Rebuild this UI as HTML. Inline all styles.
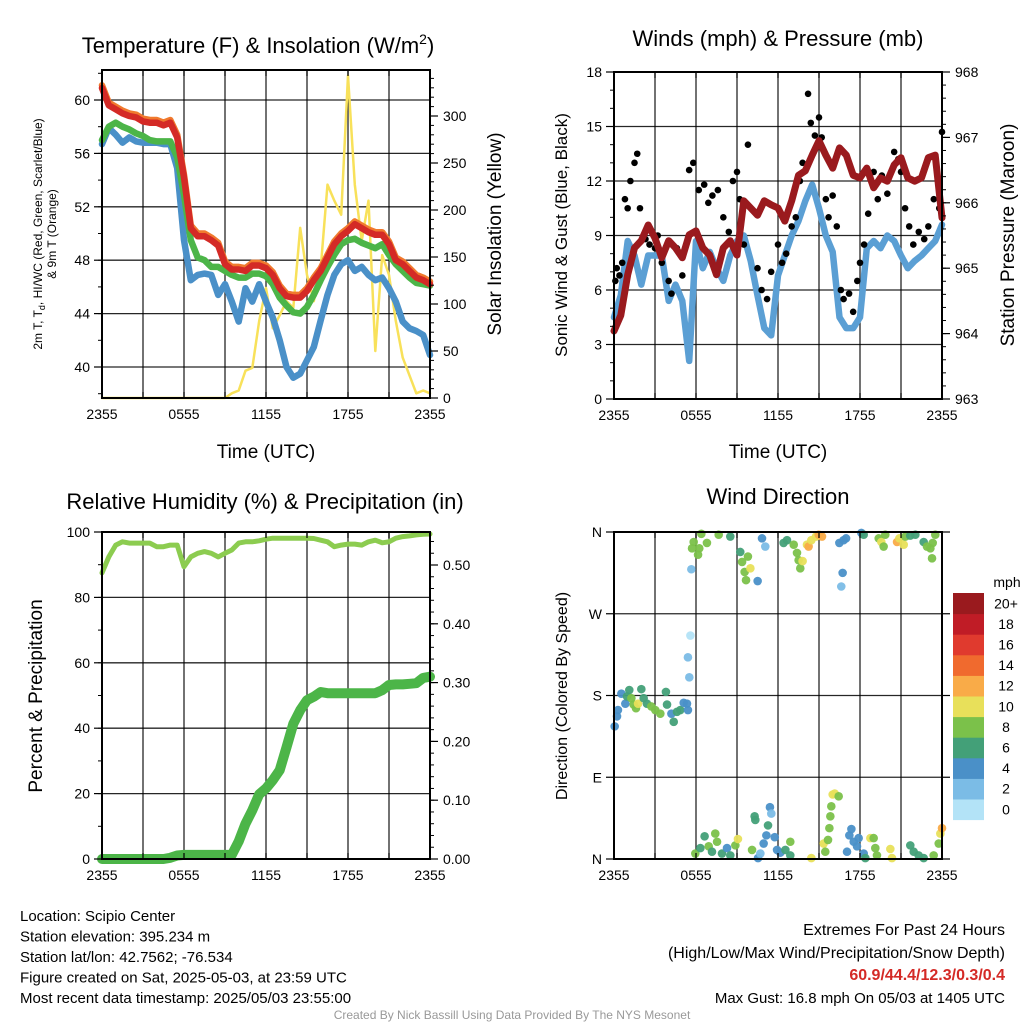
<!DOCTYPE html>
<html><head><meta charset="utf-8">
<style>
html,body{margin:0;padding:0;background:#fff;}
svg{display:block;font-family:"Liberation Sans",Arial,sans-serif;}
</style></head>
<body>
<svg id="c" width="1024" height="1024" viewBox="0 0 1024 1024"></svg>
<script>
// ---------- DATA ----------
const hoursHalf = [0,0.5,1,1.5,2,2.5,3,3.5,4,4.5,5,5.5,6,6.5,7,7.5,8,8.5,9,9.5,10,10.5,11,11.5,12,12.5,13,13.5,14,14.5,15,15.5,16,16.5,17,17.5,18,18.5,19,19.5,20,20.5,21,21.5,22,22.5,23,23.5,24];
const xTickLabels = ["2355","0555","1155","1755","2355"];
const tempRed = [60.9,59.6,59.3,59.0,58.8,58.7,58.4,58.3,58.3,58.1,58.3,57.2,54.2,50.4,49.8,49.8,49.5,49.1,47.7,47.3,47.3,47.2,47.6,47.6,47.4,46.9,45.9,45.3,45.2,45.2,45.7,46.5,47.2,48.2,49.2,49.8,50.2,50.7,50.4,50.1,49.9,49.9,49.2,48.0,47.7,47.2,46.7,46.5,46.2];
const tempGreen = [57.0,58.0,58.3,58.0,57.8,57.5,57.3,57.0,56.9,56.9,56.9,55.7,52.9,49.5,48.2,48.0,47.5,47.5,47.2,46.9,46.7,46.7,47.0,47.0,46.8,46.2,45.2,44.6,44.1,44.0,44.5,45.4,46.5,47.5,48.4,49.2,49.5,49.6,49.3,49.1,48.9,49.2,48.4,47.7,47.2,46.7,46.3,46.2,46.1];
const tempBlue = [56.7,57.9,57.4,56.8,57.2,56.9,56.8,56.8,56.8,56.7,56.7,54.9,49.5,46.5,46.9,47.0,46.9,45.4,46.2,44.9,43.4,45.9,44.9,46.2,44.9,43.7,42.0,40.0,39.2,39.5,40.5,41.5,43.5,45.4,46.9,47.7,48.0,47.2,47.5,46.9,46.5,46.7,45.9,44.9,43.4,42.9,42.7,42.4,40.9];
const insolation = [0,0,0,0,0,0,0,0,0,0,0,0,0,0,0,0,0,0,0,5,8,29,32,82,117,74,88,103,96,181,131,103,138,227,210,195,343,227,167,210,50,152,131,82,43,24,5,8,5];
const windSpeed = [4.5,5.7,8.7,7.9,6.3,7.9,7.9,7.9,5.4,6.3,5.4,2.1,8.7,7.2,8.1,7.2,6.5,7.9,8.7,9.0,7.6,5.7,3.9,3.5,6.8,7.9,9.0,9.8,10.9,11.8,10.5,9.0,8.1,4.5,3.9,3.9,4.5,8.3,8.7,8.3,9.0,8.7,7.9,7.2,7.6,7.9,8.3,8.7,9.6];
const pressure = [964.04,964.28,964.9,965.31,965.42,965.66,965.46,965.16,965.42,965.31,965.16,965.51,965.57,965.31,965.2,964.9,965.31,965.42,965.2,966.03,965.92,965.81,966.03,965.97,965.92,965.72,966.03,966.42,966.49,966.73,966.95,966.73,966.53,966.84,966.73,966.42,966.38,966.53,966.23,966.38,966.33,966.58,966.69,966.38,966.33,966.38,966.69,966.73,965.77];
const gustHours = [0.1,0.2,0.4,0.6,0.8,1.0,1.2,1.5,1.7,1.9,2.3,2.6,3.0,3.2,3.5,4.0,4.2,4.6,5.0,5.5,5.8,6.2,6.6,6.9,7.2,7.6,8.0,8.4,8.7,9.0,9.2,9.5,9.8,10.5,10.8,11.2,11.5,12.0,12.3,12.6,13.0,13.3,13.6,13.8,14.2,14.4,14.7,15.0,15.2,15.5,15.7,16.0,16.3,16.6,16.8,17.2,17.5,17.8,18.0,18.3,18.6,19.0,19.3,19.6,20.0,20.5,20.8,21.0,21.3,21.6,21.9,22.3,22.7,23.0,23.4,23.8,24.0];
const gustValues = [6.5,7.2,6.8,7.5,11,10.5,12,13,13.5,10.5,8.8,8.5,8.3,9,7.5,6.5,5.8,8.3,6.8,12.6,13,11.5,11.8,10.8,11.2,11.5,10,9.2,12,12.5,11,8.5,14,7.2,6,5.5,7,8.5,7.5,8,9.5,10,12,13,16.8,15.2,14.5,15.5,14.4,11,10,11.2,9.5,6,5.5,5.8,4.8,6.5,7.5,8.5,10.2,12.5,11,12.3,11.3,13.6,13.2,12.5,10.5,9.5,8.5,9.2,8.8,9.5,11,10.5,14.7];
const rh = [87.5,92.4,96,97,96.6,96.6,96.6,96.6,95.5,95.5,96,96,89.4,92.4,93.5,94,93.5,92.4,93.5,94.5,96.6,97,97,97.3,97.8,98.1,98.1,98.1,98.1,98.1,98.1,98,97.5,97,95.5,96,96.3,96.3,96,97,97.5,96.7,97,98.1,98.6,98.8,99.1,99.3,99.4];
const precip = [0,0,0,0,0,0,0,0,0,0,0.002,0.006,0.007,0.007,0.007,0.007,0.007,0.007,0.007,0.007,0.03,0.06,0.083,0.11,0.12,0.134,0.151,0.19,0.23,0.253,0.27,0.276,0.284,0.282,0.282,0.282,0.282,0.282,0.282,0.282,0.282,0.287,0.296,0.297,0.297,0.298,0.299,0.308,0.31];
const dirHours = [0.05,0.22,0.29,0.54,0.83,0.95,1.12,1.27,1.44,1.61,1.76,2.0,2.17,2.41,2.73,3.02,3.39,3.8,3.88,4.2,4.37,4.61,4.85,5.1,5.34,5.41,5.51,5.41,5.59,5.66,
5.83,5.71,6.24,6.15,6.39,6.8,7.66,8.51,9.24,9.37,9.56,9.8,9.98,9.66,10.51,10.83,11.07,12.41,12.66,13.15,13.39,13.51,13.63,13.8,14.12,14.24,14.44,14.78,14.98,15.22,16.49,16.8,16.98,16.73,16.63,18.1,18.27,19.37,19.56,19.73,19.85,20.71,20.88,21.2,21.32,21.68,22.05,22.66,22.9,23.15,23.27,23.51,23.32,
5.95,6.32,6.63,6.93,7.17,7.41,7.54,7.9,8.27,8.51,8.88,9.07,10.1,10.29,10.34,10.54,10.71,10.95,11.15,11.27,11.41,11.51,11.76,11.93,12.17,12.54,12.9,12.9,14.44,15.34,15.46,15.66,15.76,15.83,15.9,16.0,16.15,16.44,17.05,17.22,17.37,17.54,17.78,17.9,18.27,18.39,18.76,19.0,19.12,19.24,20.22,20.34,21.68,21.93,22.29,22.66,23.39,23.76,23.88,24.0];
const dirDegrees = [146,157,164,182,171,179,186,177,170,166,171,187,177,171,168,164,160,184,170,160,151,162,164,172,171,164,200,222,246,319,
349,342,342,335,358,348,357,355,338,327,316,333,320,307,306,353,344,348,351,346,337,329,320,328,346,344,351,355,357,355,348,351,353,315,300,359,357,353,349,344,357,349,353,346,355,356,357,349,344,342,331,357,348,
6,12,25,14,8,28,19,6,12,4,15,22,10,47,43,1,6,17,26,37,57,50,24,10,7,10,19,4,1,17,8,21,34,47,58,71,72,69,8,26,33,19,14,23,6,1,23,23,12,4,11,1,15,8,4,1,4,17,28,34];
const dirSpeeds = [4,4,4,4,4,6,6,8,8,8,10,6,6,6,8,8,8,6,6,4,6,6,6,4,4,4,2,2,0,2,
8,8,8,8,8,8,8,6,6,8,8,8,10,8,4,4,2,6,6,8,8,8,8,10,10,12,10,10,12,12,4,4,4,4,2,4,6,8,10,8,8,12,10,10,8,6,6,6,8,8,8,8,8,
8,6,6,8,6,8,8,6,4,6,8,10,8,6,6,4,2,4,4,6,4,2,4,4,4,6,8,6,10,10,8,8,8,8,8,10,10,8,4,4,4,4,4,4,4,6,10,8,8,8,10,10,6,6,6,6,8,8,10,12];
const speedBins = ["0","2","4","6","8","10","12","14","16","18","20+"];
const speedColors = ["#b3e3f7","#7bbce6","#4a90c8","#43a078","#7bc14a","#e8e05a","#f9ab48","#f06a2e","#e03a2e","#c01c26","#9a1a1e"];

// ---------- HELPERS ----------
const NS="http://www.w3.org/2000/svg";
const svg=document.getElementById('c');
function mk(tag,attrs,parent){const e=document.createElementNS(NS,tag);for(const k in attrs)e.setAttribute(k,attrs[k]);(parent||svg).appendChild(e);return e;}
function txt(s,x,y,size,opts,parent){opts=opts||{};const e=mk('text',{x:x,y:y,'font-size':size,'text-anchor':opts.anchor||'middle',fill:opts.fill||'#000'},parent);if(opts.weight)e.setAttribute('font-weight',opts.weight);if(opts.rot!==undefined)e.setAttribute('transform','rotate('+opts.rot+' '+x+' '+y+')');e.textContent=s;return e;}
function lin(d0,d1,r0,r1){return v=>r0+(v-d0)/(d1-d0)*(r1-r0);}

function panelFrame(p,name){
  const g=mk('g',{});
  
  
  for(let h=3;h<24;h+=3){mk('line',{x1:p.x(h),x2:p.x(h),y1:p.top,y2:p.bot,stroke:'#000','stroke-width':1.3,'stroke-opacity':0.85},g);}
  return g;
}
function xAxis(p,g){
  for(let i=0;i<=8;i++){const h=i*3;const X=p.x(h);
    mk('line',{x1:X,x2:X,y1:p.bot,y2:p.bot-6,stroke:'#000','stroke-width':1.2},g);
    mk('line',{x1:X,x2:X,y1:p.top,y2:p.top+6,stroke:'#000','stroke-width':1.2},g);}
  for(let i=0;i<xTickLabels.length;i++){const t=txt(xTickLabels[i],p.x(i*6),p.bot+21,14,{},g);
    
    }
}
function border(p,g){mk('rect',{x:p.left,y:p.top,width:p.right-p.left,height:p.bot-p.top,fill:'none',stroke:'#000','stroke-width':2},g);}
function hgrid(p,vals,yf,g){vals.forEach(v=>mk('line',{x1:p.left,x2:p.right,y1:yf(v),y2:yf(v),stroke:'#000','stroke-width':1.3,'stroke-opacity':0.85},g));}
function yTicks(side,p,vals,yf,labels,g,minor){
  const X= side==='l'?p.left:p.right; const dir= side==='l'?-1:1;
  (minor||[]).forEach(v=>mk('line',{x1:X,x2:X+dir*4,y1:yf(v),y2:yf(v),stroke:'#000','stroke-width':1},g));
  vals.forEach((v,i)=>{mk('line',{x1:X,x2:X+dir*8,y1:yf(v),y2:yf(v),stroke:'#000','stroke-width':1.2},g);
    const t=txt(labels[i],X+dir*(side==='l'?12:13),yf(v)+5,14,{anchor:side==='l'?'end':'start'},g);
    
    });
}
function path(xs,ys,xf,yf,color,w,g,name){
  let d='';for(let i=0;i<xs.length;i++)d+=(i?'L':'M')+xf(xs[i]).toFixed(1)+','+yf(ys[i]).toFixed(1);
  const e=mk('path',{d:d,fill:'none',stroke:color,'stroke-width':w,'stroke-linejoin':'round','stroke-linecap':'round'},g);
  
  
  return e;
}
function range(a,b,s){const r=[];for(let v=a;v<=b+1e-9;v+=s)r.push(+v.toFixed(3));return r;}

// ---------- PANEL 1: Temperature ----------
(function(){
  const p={left:102,right:430,top:70,bot:398};p.x=lin(0,24,p.left,p.right);
  const yT=lin(40,60,367,100); const yS=lin(0,300,398,116);
  const g=panelFrame(p,'temperature-panel');
  hgrid(p,[40,44,48,52,56,60],yT,g);
  path(hoursHalf,insolation,p.x,yS,'#f8e15a',2.5,g,'insolation-line');
  path(hoursHalf,tempBlue,p.x,yT,'#4a90c8',6.5,g,'windchill-line');
  path(hoursHalf,tempGreen,p.x,yT,'#4cb548',6.5,g,'dewpoint-line');
  path(hoursHalf,tempRed.map(v=>v+0.2),p.x,yT,'#f07a2e',6.5,g,'temp-9m-line');
  path(hoursHalf,tempRed,p.x,yT,'#d42a26',6.5,g,'temp-2m-line');
  border(p,g);xAxis(p,g);
  yTicks('l',p,[40,44,48,52,56,60],yT,['40','44','48','52','56','60'],g,range(38,62,2));
  yTicks('r',p,[0,50,100,150,200,250,300],yS,['0','50','100','150','200','250','300'],g,range(0,340,10));
  let t=txt('Temperature (F) & Insolation (W/m',258,53,22,{});
  const sup=mk('tspan',{dy:-9,'font-size':14});sup.textContent='2';t.appendChild(sup);
  const cl=mk('tspan',{dy:9});cl.textContent=')';t.appendChild(cl);
  t=txt('Time (UTC)',266,458,19,{});
  t=txt('2m T, T',42,234,12,{rot:-90});
  const sub=mk('tspan',{dy:3,'font-size':9});sub.textContent='d';t.appendChild(sub);
  const rest=mk('tspan',{dy:-3});rest.textContent=', HI/WC (Red, Green, Scarlet/Blue)';t.appendChild(rest);
  t=txt('& 9m T (Orange)',56,234,12,{rot:-90});
  t=txt('Solar Insolation (Yellow)',501,234,19,{rot:-90});
})();

// ---------- PANEL 2: Winds ----------
(function(){
  const p={left:614,right:942,top:72,bot:399};p.x=lin(0,24,p.left,p.right);
  const yW=lin(0,18,399,72); const yP=lin(963,968,399,72);
  const g=panelFrame(p,'winds-panel');
  hgrid(p,[3,6,9,12,15],yW,g);
  path(hoursHalf,windSpeed,p.x,yW,'#5b9fd4',6.5,g,'wind-speed-line');
  for(let i=0;i<gustHours.length;i++){const c=mk('circle',{cx:p.x(gustHours[i]),cy:yW(gustValues[i]),r:3.3,fill:'#000'},g);
    
    }
  path(hoursHalf,pressure,p.x,yP,'#9a1a1e',7,g,'pressure-line');
  border(p,g);xAxis(p,g);
  yTicks('l',p,[0,3,6,9,12,15,18],yW,['0','3','6','9','12','15','18'],g,range(0,18,1));
  yTicks('r',p,[963,964,965,966,967,968],yP,['963','964','965','966','967','968'],g,range(963,968,0.2));
  let t=txt('Winds (mph) & Pressure (mb)',778,46,22,{});
  t=txt('Time (UTC)',778,458,19,{});
  t=txt('Sonic Wind & Gust (Blue, Black)',567,235,17,{rot:-90});
  t=txt('Station Pressure (Maroon)',1014,235,19,{rot:-90});
})();

// ---------- PANEL 3: RH & Precip ----------
(function(){
  const p={left:102,right:430,top:532,bot:859};p.x=lin(0,24,p.left,p.right);
  const yR=lin(0,100,859,532); const yPr=lin(0,0.5,859,565);
  const g=panelFrame(p,'humidity-panel');
  hgrid(p,[20,40,60,80],yR,g);
  path(hoursHalf,rh,p.x,yR,'#8ccc50',5,g,'humidity-line');
  path(hoursHalf,precip,p.x,yPr,'#4cb548',10,g,'precipitation-line');
  border(p,g);xAxis(p,g);
  yTicks('l',p,[0,20,40,60,80,100],yR,['0','20','40','60','80','100'],g,range(0,100,10));
  yTicks('r',p,[0,0.1,0.2,0.3,0.4,0.5],yPr,['0.00','0.10','0.20','0.30','0.40','0.50'],g,range(0,0.55,0.02));
  let t=txt('Relative Humidity (%) & Precipitation (in)',265,509,22,{});
  t=txt('Percent & Precipitation',42,696,19,{rot:-90});
})();

// ---------- PANEL 4: Wind Direction ----------
(function(){
  const p={left:614,right:942,top:532,bot:859};p.x=lin(0,24,p.left,p.right);
  const yD=lin(0,360,859,532);
  const g=panelFrame(p,'wind-direction-panel');
  hgrid(p,[90,180,270],yD,g);
  function col(s){let i=Math.floor(s/2);if(i<0)i=0;if(i>10)i=10;return speedColors[i];}
  for(let i=0;i<dirHours.length;i++){const c=mk('circle',{cx:p.x(dirHours[i]),cy:yD(dirDegrees[i]),r:4.3,fill:col(dirSpeeds[i]),'fill-opacity':0.95},g);
    
    }
  border(p,g);xAxis(p,g);
  yTicks('l',p,[0,90,180,270,360],yD,['N','E','S','W','N'],g,[]);
  [0,90,180,270,360].forEach(v=>mk('line',{x1:p.right,x2:p.right+8,y1:yD(v),y2:yD(v),stroke:'#000','stroke-width':1.2},g));
  let t=txt('Wind Direction',778,504,22,{});
  t=txt('Direction (Colored By Speed)',567,696,16,{rot:-90});
  const cb=mk('g',{});
  
  
  const h=20.6, top=593;
  for(let i=0;i<speedBins.length;i++){const yy=top+(10-i)*h;
    const r=mk('rect',{x:953,y:yy,width:31,height:h+0.5,fill:speedColors[i]},cb);
    
    
    const l=txt(speedBins[i],1006,yy+h/2+5,14,{},cb);
    
    }
  t=txt('mph',1007,587,14,{},cb);
})();

// ---------- FOOTER ----------
(function(){
  const lines=['Location: Scipio Center','Station elevation: 395.234 m','Station lat/lon: 42.7562; -76.534','Figure created on Sat, 2025-05-03, at 23:59 UTC','Most recent data timestamp: 2025/05/03 23:55:00'];
  lines.forEach((s,i)=>{const t=txt(s,20,921+i*20.5,15,{anchor:'start'});});
  let t=txt('Extremes For Past 24 Hours',1005,935,16,{anchor:'end'});
  t=txt('(High/Low/Max Wind/Precipitation/Snow Depth)',1005,958,16,{anchor:'end'});
  t=txt('60.9/44.4/12.3/0.3/0.4',1005,980,16,{anchor:'end',fill:'#d42a26',weight:'bold'});
  t=txt('Max Gust: 16.8 mph On 05/03 at 1405 UTC',1005,1003,15,{anchor:'end'});
  t=txt('Created By Nick Bassill Using Data Provided By The NYS Mesonet',512,1019,12,{fill:'#999'});
})();
</script>
</body></html>
